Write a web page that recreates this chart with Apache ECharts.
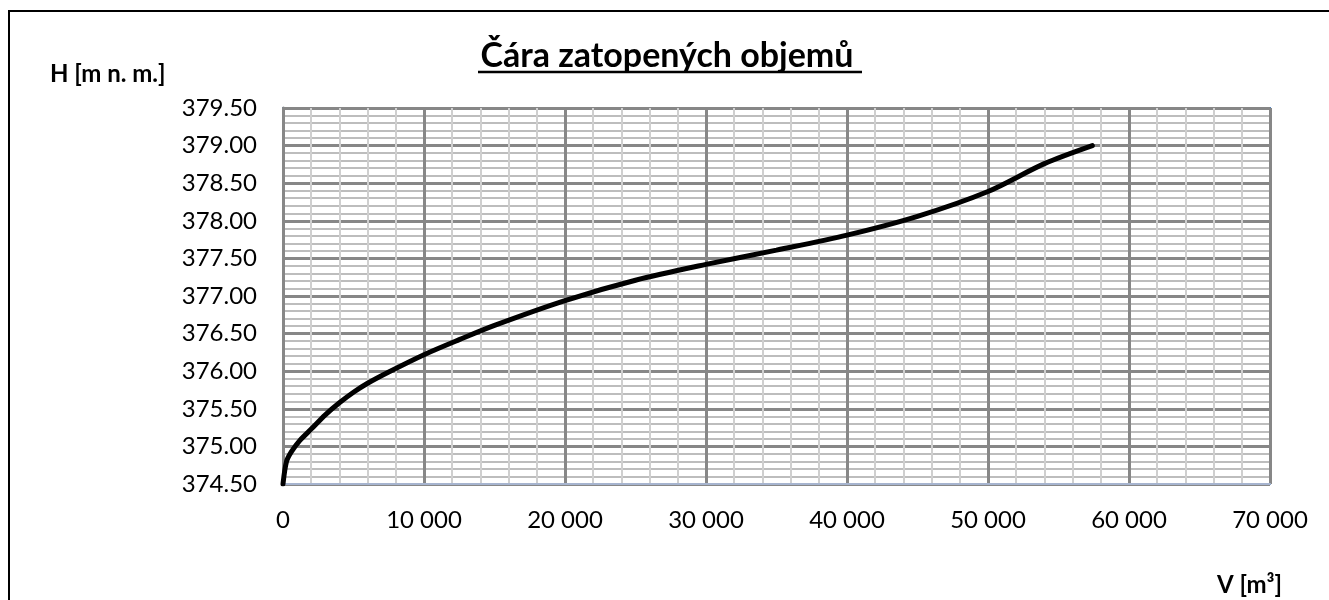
<!DOCTYPE html>
<html>
<head>
<meta charset="utf-8">
<script src="https://cdn.jsdelivr.net/npm/echarts@6/dist/echarts.min.js"></script>
<style>
  html, body { margin: 0; padding: 0; background: #fff; }
  #main { width: 1329px; height: 600px; }
</style>
</head>
<body>
<div id="main"></div>
<script>
// objem V [m3] a hladina H [m n. m.]
const objem = [0, 250, 600, 1200, 2000, 3000, 4000, 5000, 6000, 7500, 10000, 12500, 15000, 20000, 25000, 30000, 35000, 40000, 45000, 50000, 54000, 57400];
const hladina = [374.5, 374.8, 374.93, 375.08, 375.23, 375.42, 375.58, 375.72, 375.84, 375.99, 376.22, 376.42, 376.61, 376.94, 377.21, 377.42, 377.61, 377.81, 378.06, 378.39, 378.76, 379.0];

const font = 'Lato, "Open Sans", sans-serif';

function tisice(v) {
  return String(v).replace(/\B(?=(\d{3})+(?!\d))/g, ' ');
}

const myChart = echarts.init(document.getElementById('main'));

const option = {
  animation: false,
  grid: {
    left: 283,
    right: 59,
    top: 108,
    bottom: 116,
    show: true,
    borderColor: '#4f81bd',
    borderWidth: 2,
  },
  graphic: [
    {
      type: 'rect',
      shape: { x: 9, y: 11, width: 1340, height: 620 },
      style: { fill: 'none', stroke: '#000', lineWidth: 2 },
    },
    {
      type: 'text',
      x: 667,
      y: 56,
      style: {
        text: 'Čára zatopených objemů',
        font: 'bold 34px ' + font,
        fill: '#000',
        align: 'center',
        verticalAlign: 'middle',
      },
    },
    {
      type: 'line',
      shape: { x1: 478, y1: 72, x2: 862, y2: 72 },
      style: { stroke: '#000', lineWidth: 2.5 },
    },
    {
      type: 'text',
      x: 50,
      y: 74,
      style: { text: 'H [m n. m.]', font: 'bold 24px ' + font, fill: '#000', verticalAlign: 'middle' },
    },
    {
      type: 'text',
      x: 1217,
      y: 585,
      style: { text: 'V [m³]', font: 'bold 24px ' + font, fill: '#000', verticalAlign: 'middle' },
    },
  ],
  xAxis: {
    type: 'value',
    min: 0,
    max: 70000,
    interval: 10000,
    axisLine: { show: true, lineStyle: { color: '#a6b4cf', width: 2 } },
    axisTick: { show: false },
    axisLabel: {
      margin: 24,
      fontSize: 24,
      fontFamily: font,
      color: '#000',
      formatter: tisice,
    },
    splitLine: { show: true, lineStyle: { color: '#878787', width: 3 } },
    minorTick: { show: false, splitNumber: 5 },
    minorSplitLine: { show: true, lineStyle: { color: '#cfcfcf', width: 2 } },
  },
  yAxis: {
    type: 'value',
    min: 374.5,
    max: 379.5,
    interval: 0.5,
    axisLine: { show: true, lineStyle: { color: '#878787', width: 3 } },
    axisTick: { show: false },
    axisLabel: {
      margin: 26,
      fontSize: 24,
      fontFamily: font,
      color: '#000',
      formatter: (v) => v.toFixed(2),
    },
    splitLine: { show: true, lineStyle: { color: '#878787', width: 3 } },
    minorTick: { show: false, splitNumber: 5 },
    minorSplitLine: { show: true, lineStyle: { color: '#bdbdbd', width: 2 } },
  },
  series: [
    {
      type: 'line',
      data: objem.map((v, i) => [v, hladina[i]]),
      smooth: 0.3,
      showSymbol: false,
      lineStyle: { color: '#000', width: 5, cap: 'round' },
      z: 5,
    },
  ],
};

myChart.setOption(option);
</script>
</body>
</html>
